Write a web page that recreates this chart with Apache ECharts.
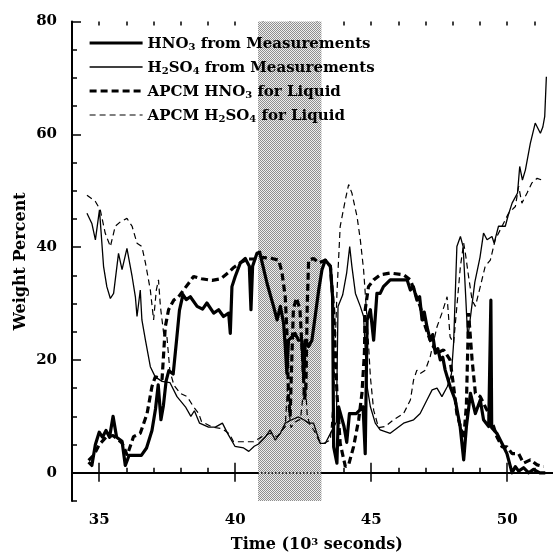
<!DOCTYPE html>
<html>
<head>
<meta charset="utf-8">
<script src="https://cdn.jsdelivr.net/npm/echarts@6/dist/echarts.min.js"></script>
<style>
html,body{margin:0;padding:0;background:#fff;}
#chart{width:553px;height:552px;}
</style>
</head>
<body>
<div id="chart"></div>
<script>
// ---------- data (x in 10^3 s, y in weight percent) ----------
const seriesNames = ['HNO3 from Measurements', 'H2SO4 from Measurements', 'APCM HNO3 for Liquid', 'APCM H2SO4 for Liquid'];

const hno3Measured = [[34.61,1.9],[34.73,1.3],[34.86,5.0],[35.0,7.2],[35.12,6.3],[35.25,7.5],[35.38,6.3],[35.51,10.0],[35.64,6.3],[35.84,5.6],[35.96,1.3],[36.1,3.1],[36.3,3.1],[36.55,3.1],[36.74,4.4],[36.94,7.5],[37.07,11.3],[37.17,15.6],[37.27,9.4],[37.36,11.9],[37.46,16.3],[37.56,18.1],[37.72,17.5],[37.85,23.8],[37.95,28.8],[38.08,31.6],[38.2,30.7],[38.35,31.2],[38.6,29.5],[38.8,29.0],[38.96,30.1],[39.21,28.3],[39.39,28.9],[39.57,27.7],[39.76,28.3],[39.82,24.7],[39.88,33.0],[40.0,34.8],[40.19,37.2],[40.37,38.0],[40.52,36.6],[40.58,28.9],[40.64,36.6],[40.8,38.9],[40.9,39.1],[41.17,33.6],[41.41,29.5],[41.54,27.1],[41.66,29.5],[41.78,26.5],[41.84,22.4],[41.9,17.6],[41.96,23.5],[42.08,24.1],[42.2,24.7],[42.33,23.5],[42.45,23.5],[42.52,17.0],[42.58,23.5],[42.7,22.4],[42.82,23.5],[42.94,27.7],[43.07,32.4],[43.19,36.0],[43.31,37.7],[43.5,36.6],[43.58,31.2],[43.62,4.6],[43.74,1.7],[43.8,11.7],[44.0,8.2],[44.1,5.4],[44.2,10.5],[44.45,10.5],[44.7,11.7],[44.78,3.4],[44.85,27.1],[44.97,28.9],[45.09,23.5],[45.21,31.8],[45.33,31.8],[45.45,33.0],[45.7,34.2],[46.0,34.2],[46.32,34.2],[46.44,32.4],[46.55,33.0],[46.68,30.6],[46.78,31.2],[46.87,27.1],[46.95,28.5],[47.05,25.9],[47.17,23.5],[47.26,24.5],[47.36,21.2],[47.45,22.0],[47.54,20.0],[47.63,20.5],[47.72,18.2],[47.9,15.3],[48.09,12.9],[48.27,8.2],[48.4,2.3],[48.5,8.2],[48.65,14.1],[48.83,10.5],[49.01,12.9],[49.13,9.4],[49.32,8.2],[49.37,8.0],[49.4,30.6],[49.43,8.0],[49.5,8.2],[49.62,7.0],[49.81,5.2],[49.99,3.4],[50.18,0.0],[50.3,1.1],[50.42,0.3],[50.6,0.9],[50.79,0.0],[50.97,0.6],[51.2,0.0],[51.4,0.0]];

const h2so4Measured = [[34.55,46.0],[34.73,44.2],[34.86,41.3],[35.01,46.6],[35.16,36.6],[35.28,33.0],[35.41,30.9],[35.53,31.8],[35.71,38.9],[35.84,36.0],[36.02,39.8],[36.21,34.8],[36.33,31.2],[36.39,27.7],[36.51,32.4],[36.57,27.1],[36.7,23.5],[36.88,18.8],[37.06,17.0],[37.31,16.2],[37.6,16.0],[37.86,13.5],[38.17,11.7],[38.37,10.0],[38.5,11.0],[38.69,8.8],[39.02,8.1],[39.27,8.1],[39.53,8.8],[39.73,6.9],[39.99,4.7],[40.31,4.4],[40.5,3.8],[40.7,4.7],[40.86,5.1],[41.1,6.3],[41.29,7.6],[41.47,5.8],[41.66,7.0],[41.84,8.8],[42.08,9.4],[42.33,9.9],[42.52,9.4],[42.7,8.8],[42.88,8.8],[43.0,7.0],[43.13,5.2],[43.31,5.2],[43.45,6.5],[43.62,8.1],[43.72,9.0],[43.78,29.5],[43.95,31.5],[44.1,35.5],[44.21,40.1],[44.29,36.6],[44.42,31.8],[44.6,29.5],[44.72,27.7],[44.85,15.3],[44.97,11.7],[45.15,8.8],[45.33,7.6],[45.7,7.0],[46.19,8.8],[46.56,9.4],[46.8,10.5],[47.05,12.9],[47.24,14.7],[47.42,15.0],[47.6,13.5],[47.8,15.3],[47.95,17.5],[48.03,23.0],[48.15,40.1],[48.28,41.9],[48.38,40.1],[48.48,30.7],[48.55,23.8],[48.68,28.8],[48.81,33.8],[49.0,38.2],[49.13,42.5],[49.26,41.3],[49.44,41.9],[49.52,40.7],[49.68,43.7],[49.93,43.7],[50.04,45.7],[50.18,47.8],[50.38,49.6],[50.46,54.3],[50.56,51.9],[50.67,53.7],[50.85,58.4],[51.03,62.0],[51.22,60.2],[51.31,61.3],[51.38,63.2],[51.44,70.2]];

const hno3Model = [[34.61,2.2],[34.8,3.1],[35.0,5.0],[35.25,6.3],[35.51,6.6],[35.84,5.3],[36.03,3.1],[36.26,6.4],[36.51,7.0],[36.76,10.5],[36.94,15.3],[37.06,17.0],[37.2,16.8],[37.31,16.5],[37.37,21.2],[37.43,25.9],[37.55,28.9],[37.74,30.6],[37.92,31.2],[38.1,32.4],[38.29,33.6],[38.47,34.8],[38.76,34.4],[39.15,34.1],[39.47,34.4],[39.73,35.4],[39.92,36.3],[40.18,37.2],[40.44,37.9],[40.7,37.9],[40.96,38.2],[41.35,38.0],[41.6,37.7],[41.72,35.5],[41.84,31.2],[41.9,25.0],[41.96,13.5],[42.02,10.0],[42.08,20.0],[42.14,29.0],[42.25,31.0],[42.38,29.0],[42.48,20.0],[42.55,13.0],[42.6,15.0],[42.65,30.0],[42.7,37.7],[42.88,38.0],[43.07,37.2],[43.31,37.7],[43.5,36.6],[43.62,28.9],[43.74,14.1],[43.86,5.2],[44.05,1.1],[44.17,1.4],[44.35,4.6],[44.54,9.4],[44.66,14.1],[44.75,21.2],[44.78,28.9],[44.9,33.0],[45.09,34.2],[45.33,35.1],[45.7,35.4],[46.19,35.1],[46.44,34.2],[46.62,31.8],[46.8,29.5],[46.99,25.9],[47.17,23.5],[47.42,21.2],[47.66,21.8],[47.9,20.0],[48.03,15.3],[48.15,10.5],[48.28,8.2],[48.4,6.0],[48.5,12.0],[48.58,28.3],[48.71,20.0],[48.83,14.1],[49.01,13.5],[49.13,12.3],[49.32,10.5],[49.5,8.2],[49.62,6.4],[49.81,4.6],[49.99,4.6],[50.18,3.4],[50.42,3.4],[50.6,1.7],[50.85,2.3],[51.1,1.4],[51.34,1.1]];

const h2so4Model = [[34.55,49.2],[34.86,48.1],[35.04,46.6],[35.22,42.5],[35.41,40.1],[35.59,43.7],[35.78,44.5],[36.02,45.1],[36.21,43.7],[36.39,40.7],[36.57,40.1],[36.7,37.2],[36.88,32.4],[37.0,27.1],[37.1,32.4],[37.18,34.2],[37.25,29.5],[37.37,24.7],[37.49,24.1],[37.6,18.0],[37.75,15.5],[37.98,14.1],[38.23,13.5],[38.47,11.7],[38.66,10.5],[38.76,9.1],[39.15,8.1],[39.53,7.8],[39.79,6.9],[39.94,5.5],[40.3,5.5],[40.68,5.5],[40.98,6.4],[41.29,7.0],[41.54,6.4],[41.84,8.2],[41.92,15.0],[41.98,11.0],[42.05,8.0],[42.2,9.0],[42.4,9.5],[42.5,14.0],[42.58,16.0],[42.65,10.0],[42.75,8.5],[42.9,7.5],[43.1,5.5],[43.25,5.2],[43.5,5.8],[43.62,14.1],[43.74,31.8],[43.86,43.7],[44.05,48.4],[44.17,51.1],[44.29,49.6],[44.48,45.4],[44.6,41.3],[44.72,36.0],[44.85,27.1],[44.97,17.0],[45.09,11.1],[45.27,8.0],[45.52,8.2],[45.82,9.4],[46.19,10.5],[46.44,12.9],[46.56,16.5],[46.68,18.2],[46.8,17.6],[46.99,18.2],[47.17,20.6],[47.42,25.9],[47.6,28.3],[47.79,31.2],[47.85,31.5],[47.9,24.1],[48.03,23.0],[48.28,36.6],[48.4,40.7],[48.46,39.0],[48.58,34.8],[48.71,30.6],[48.83,29.5],[49.01,33.0],[49.19,36.6],[49.38,37.7],[49.56,41.3],[49.81,43.7],[50.05,46.0],[50.3,47.2],[50.42,50.8],[50.54,47.8],[50.73,49.6],[50.91,51.4],[51.1,52.2],[51.28,51.9]];

const shadedSpan = [40.84, 43.17];
const xMajorTicks = [35, 40, 45, 50];
const xMinorTicks = [34,35,36,37,38,39,40,41,42,43,44,45,46,47,48,49,50,51,52];
const yMajorTicks = [0, 20, 40, 60, 80];
const yMinorTicks = [-5,0,5,10,15,20,25,30,35,40,45,50,55,60,65,70,75,80];

// ---------- styling ----------
const FONT = 'DejaVu Serif';
const INK = '#000';
const lineStyles = [
  {color: INK, width: 3.2, type: 'solid', join: 'round'},
  {color: INK, width: 1.3, type: 'solid'},
  {color: INK, width: 3.2, type: [7, 4]},
  {color: INK, width: 1.2, type: [6, 4]}
];

function checker() {
  const c = document.createElement('canvas');
  c.width = 2; c.height = 2;
  const g = c.getContext('2d');
  g.fillStyle = '#eeeeee'; g.fillRect(0,0,2,2);
  g.fillStyle = '#8e8e8e'; g.fillRect(0,0,1,1); g.fillRect(1,1,1,1);
  return c;
}

const legendRich = {
  t: {fontFamily: FONT, fontSize: 15, fontWeight: 'bold', color: INK, lineHeight: 18, verticalAlign: 'bottom'},
  s: {fontFamily: FONT, fontSize: 10, fontWeight: 'bold', color: INK, lineHeight: 11, verticalAlign: 'bottom'}
};
function legendLabel(name) {
  if (name.indexOf('HNO3') >= 0) {
    const parts = name.split('HNO3');
    return (parts[0] ? '{t|' + parts[0] + '}' : '') + '{t|HNO}{s|3}{t|' + parts[1] + '}';
  }
  const parts = name.split('H2SO4');
  return (parts[0] ? '{t|' + parts[0] + '}' : '') + '{t|H}{s|2}{t|SO}{s|4}{t|' + parts[1] + '}';
}

const axisLineStyle = {show: true, lineStyle: {color: INK, width: 2}};
const tickStyle = {color: INK, width: 1.5};

const chart = echarts.init(document.getElementById('chart'), null, {renderer: 'canvas'});
chart.setOption({
  animation: false,
  backgroundColor: '#fff',
  grid: {left: 72, top: 21.5, width: 489.6, height: 479.5, outerBoundsMode: 'none', containLabel: false},
  legend: {
    orient: 'vertical', left: 83, top: 32,
    itemWidth: 53, itemHeight: 14, itemGap: 9,
    itemStyle: {color: 'transparent', borderColor: 'transparent', borderWidth: 0, opacity: 0},
    data: seriesNames.map((n, i) => ({name: n, lineStyle: lineStyles[i]})),
    formatter: legendLabel,
    textStyle: {fontFamily: FONT, fontSize: 15, fontWeight: 'bold', color: INK, rich: legendRich}
  },
  xAxis: [
    {
      type: 'value', min: 34, max: 52, position: 'bottom',
      axisLine: axisLineStyle,
      axisTick: {show: true, inside: true, length: 10, customValues: xMajorTicks, lineStyle: tickStyle},
      axisLabel: {customValues: xMajorTicks, margin: 12, fontFamily: FONT, fontSize: 15, fontWeight: 'bold', color: INK},
      splitLine: {show: false},
      name: '{t|Time (10}{p|3}{t| seconds)}',
      nameLocation: 'middle', nameGap: 36, nameMoveOverlap: false,
      nameTextStyle: {rich: {
        t: {fontFamily: FONT, fontSize: 16, fontWeight: 'bold', color: INK, lineHeight: 20, verticalAlign: 'top'},
        p: {fontFamily: FONT, fontSize: 10, fontWeight: 'bold', color: INK, lineHeight: 12, verticalAlign: 'top'}
      }}
    },
    {
      type: 'value', min: 34, max: 52, position: 'bottom',
      axisLine: {show: false},
      axisTick: {show: true, inside: true, length: 5, customValues: xMinorTicks, lineStyle: tickStyle},
      axisLabel: {show: false}, splitLine: {show: false}
    },
    {
      type: 'value', min: 34, max: 52, position: 'top',
      axisLine: axisLineStyle,
      axisTick: {show: true, inside: true, length: 9, customValues: xMajorTicks, lineStyle: tickStyle},
      axisLabel: {show: false}, splitLine: {show: false}
    },
    {
      type: 'value', min: 34, max: 52, position: 'top',
      axisLine: {show: false},
      axisTick: {show: true, inside: true, length: 4, customValues: xMinorTicks, lineStyle: tickStyle},
      axisLabel: {show: false}, splitLine: {show: false}
    }
  ],
  yAxis: [
    {
      type: 'value', min: -5, max: 80, position: 'left',
      axisLine: axisLineStyle,
      axisTick: {show: true, inside: true, length: 9, customValues: yMajorTicks, lineStyle: tickStyle},
      axisLabel: {customValues: yMajorTicks, margin: 15, fontFamily: FONT, fontSize: 15, fontWeight: 'bold', color: INK},
      splitLine: {show: false},
      name: 'Weight Percent', nameLocation: 'middle', nameGap: 43, nameMoveOverlap: false,
      nameTextStyle: {fontFamily: FONT, fontSize: 16, fontWeight: 'bold', color: INK}
    },
    {
      type: 'value', min: -5, max: 80, position: 'left',
      axisLine: {show: false},
      axisTick: {show: true, inside: true, length: 5, customValues: yMinorTicks, lineStyle: tickStyle},
      axisLabel: {show: false}, splitLine: {show: false}
    },
    {
      type: 'value', min: -5, max: 80, position: 'right',
      axisLine: axisLineStyle,
      axisTick: {show: false}, axisLabel: {show: false}, splitLine: {show: false}
    }
  ],
  series: [
    {
      name: 'shade', type: 'line', data: [], z: 1, silent: true,
      markArea: {
        silent: true,
        itemStyle: {color: {image: checker(), repeat: 'repeat'}},
        data: [[{xAxis: shadedSpan[0]}, {xAxis: shadedSpan[1]}]]
      },
      markLine: {
        silent: true, symbol: 'none',
        label: {show: false},
        lineStyle: {color: INK, type: [1.5, 2], width: 1.5},
        data: [{yAxis: 0}]
      }
    },
    {name: seriesNames[0], type: 'line', data: hno3Measured, symbol: 'none', z: 5, itemStyle: {color: INK}, lineStyle: lineStyles[0]},
    {name: seriesNames[1], type: 'line', data: h2so4Measured, symbol: 'none', z: 4, itemStyle: {color: INK}, lineStyle: lineStyles[1]},
    {name: seriesNames[2], type: 'line', data: hno3Model, symbol: 'none', z: 4, itemStyle: {color: INK}, lineStyle: lineStyles[2]},
    {name: seriesNames[3], type: 'line', data: h2so4Model, symbol: 'none', z: 3, itemStyle: {color: INK}, lineStyle: lineStyles[3]}
  ]
});
</script>
</body>
</html>
